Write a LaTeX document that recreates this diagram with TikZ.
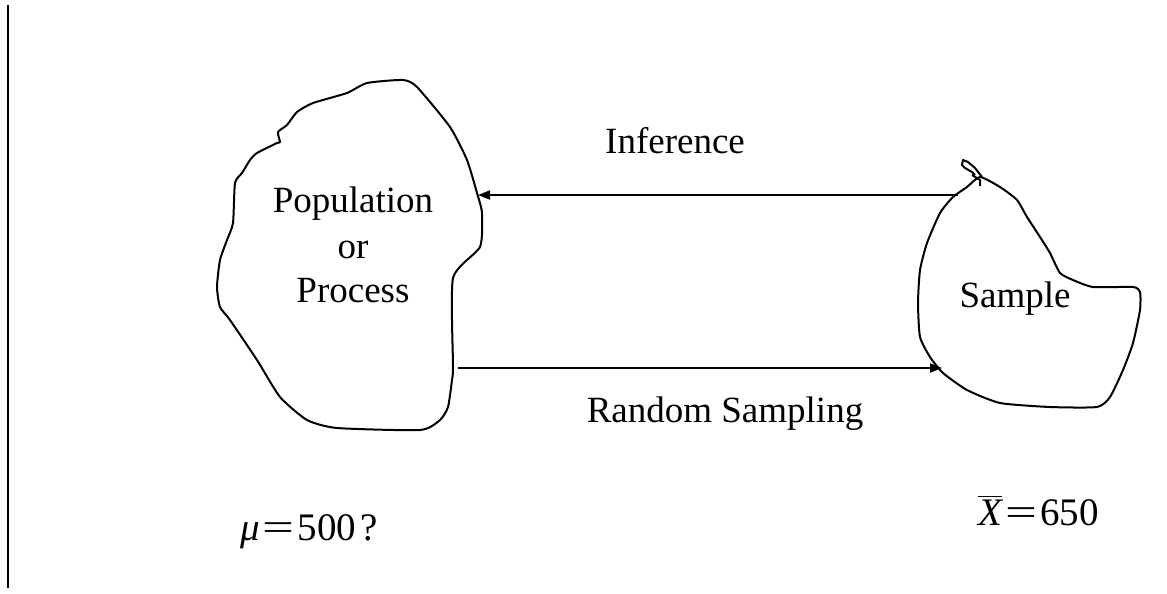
\documentclass[tikz,border=0pt]{standalone}
\usepackage{fontspec}
\setmainfont{Liberation Serif}
\usetikzlibrary{arrows.meta}
\newcommand{\wideeq}{\kern1.5pt\scalebox{1.45}[1]{=}\kern1.5pt}
\begin{document}
\begin{tikzpicture}[x=0.5pt,y=-0.5pt,
  blob/.style={line width=1pt,line join=round},
  conn/.style={line width=1pt,-{Triangle[length=6pt,width=4.5pt]}},
  lbl/.style={font=\fontsize{18.5}{22}\selectfont,inner sep=0pt,anchor=base},
  eq/.style={font=\fontsize{19.5}{23}\selectfont,inner sep=0pt,anchor=base west}]
\useasboundingbox (0,0) rectangle (1167,594);
% left rule
\draw[line width=0.6pt] (8,5) -- (8,588);
% population blob
\draw[blob] plot[smooth cycle,tension=0.35] coordinates {
 (367,83) (403,80) (417,87) (450,127) (467,160) (477,193) (482,213) (480,247)
 (453,278) (453,367) (452,380) (448,407) (440,420) (420,430) (337,428) (307,420)
 (280,397) (257,360) (230,320) (220,307) (217,287) (220,260) (227,240) (233,223)
 (235,183) (242,173) (250,160) (257,153) (277,143) (280,142) (278,132) (287,125)
 (297,112) (313,103) (347,93)};
% sample blob
\draw[blob] plot[smooth cycle,tension=0.35] coordinates {
 (980,177) (1000,187) (1017,200) (1027,217) (1040,237) (1050,253) (1060,273)
 (1073,280) (1093,287) (1133,287) (1140,292) (1140,310) (1133,343) (1123,370)
 (1110,397) (1097,407) (1050,407) (1000,403) (967,390) (943,373) (930,357)
 (920,337) (918,303) (920,270) (927,243) (940,213) (953,197) (967,187)};
\draw[blob] (982,177) -- (975,168) -- (968,162) -- (963,160) -- (962,165)
  -- (965,168) -- (972,172) -- (975,175);
\draw[blob] (972,175) -- (980,180) -- (980,186);
% text nodes
\node[lbl] (pop) at (353,212) {Population};
\node[lbl] (or) at (353,258) {or};
\node[lbl] (proc) at (353,302) {Process};
\node[lbl] (samp) at (1015,307) {Sample};
\node[lbl] (inf) at (675,153) {Inference};
\node[lbl] (rs) at (725,422) {Random Sampling};
\node[eq] (mu) at (240,540) {\itshape μ\upshape\wideeq 500\kern2pt?};
\node[eq] (xbar) at (978,525) {$\overline{\hbox{\itshape X}}$\wideeq 650};
% connectors
\coordinate (infS) at (958,195);
\coordinate (infE) at (478,195);
\coordinate (rsS) at (458,368);
\coordinate (rsE) at (942,368);
\draw[conn] (infS) -- (infE);
\draw[conn] (rsS) -- (rsE);
\end{tikzpicture}
\end{document}
